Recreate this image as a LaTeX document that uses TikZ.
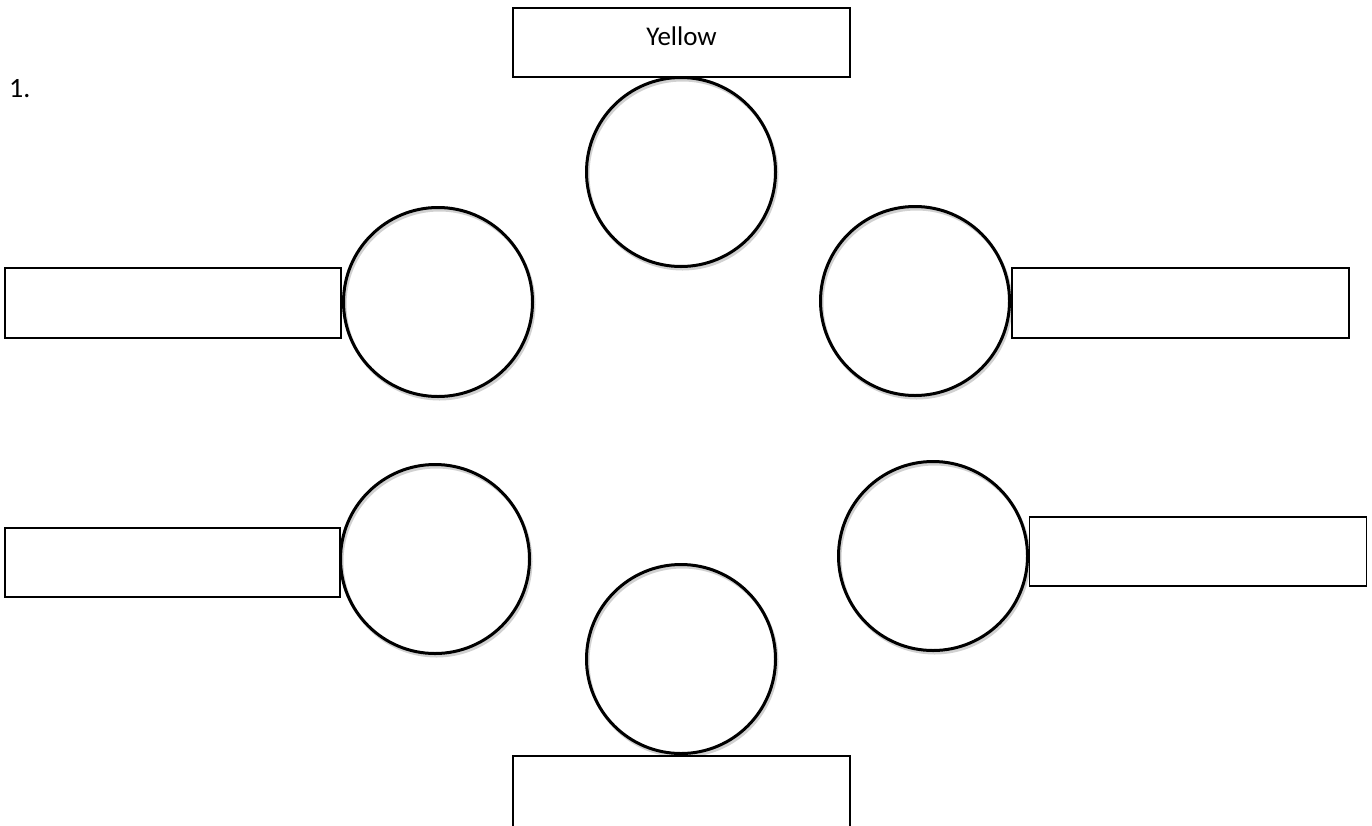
\documentclass[tikz,border=0pt]{standalone}
\usepackage{fontspec}
\setmainfont{Carlito}
\begin{document}
\begin{tikzpicture}[x=1pt,y=-1pt,
  ring/.style={circle,draw=black,line width=3pt,minimum size=189pt,inner sep=0pt,fill=none},
  shadowring/.style={draw=black!18,line width=3pt},
  blank/.style={rectangle,draw=black,line width=1.5pt,fill=white,minimum width=337pt,minimum height=69pt,inner sep=0pt,font=\fontsize{27}{32}\selectfont},
  lbl/.style={inner sep=0pt,font=\fontsize{28}{33}\selectfont}]
\useasboundingbox (0,0) rectangle (1372,825);
\clip (0,0) rectangle (1372,825);
\fill[white] (0,0) rectangle (1372,825);
% shadows
\foreach \cx/\cy in {681/172,438/302,915/301,435/559,933/556,681/659}
  \draw[shadowring] (\cx+1.5,\cy+2.5) circle (94.5);
% circles
\node[ring] (ct) at (681,172) {};
\node[ring] (cul) at (438,302) {};
\node[ring] (cur) at (915,301) {};
\node[ring] (cll) at (435,559) {};
\node[ring] (clr) at (933,556) {};
\node[ring] (cb) at (681,659) {};
% boxes
\node[blank,text height=18pt,text depth=13pt] (bt) at (681.5,42.5) {Yellow};
\node[blank,minimum width=336pt,minimum height=70pt] (bul) at (173,303) {};
\node[blank,minimum height=70pt] (bur) at (1180.5,303) {};
\node[blank,minimum width=335pt] (bll) at (172.5,562.5) {};
\node[blank] (blr) at (1198,551.5) {};
\node[blank,minimum height=90pt] (bb) at (681.5,801) {};
% number
\node[lbl,anchor=base west] (num) at (9,97) {1.};
\end{tikzpicture}
\end{document}
